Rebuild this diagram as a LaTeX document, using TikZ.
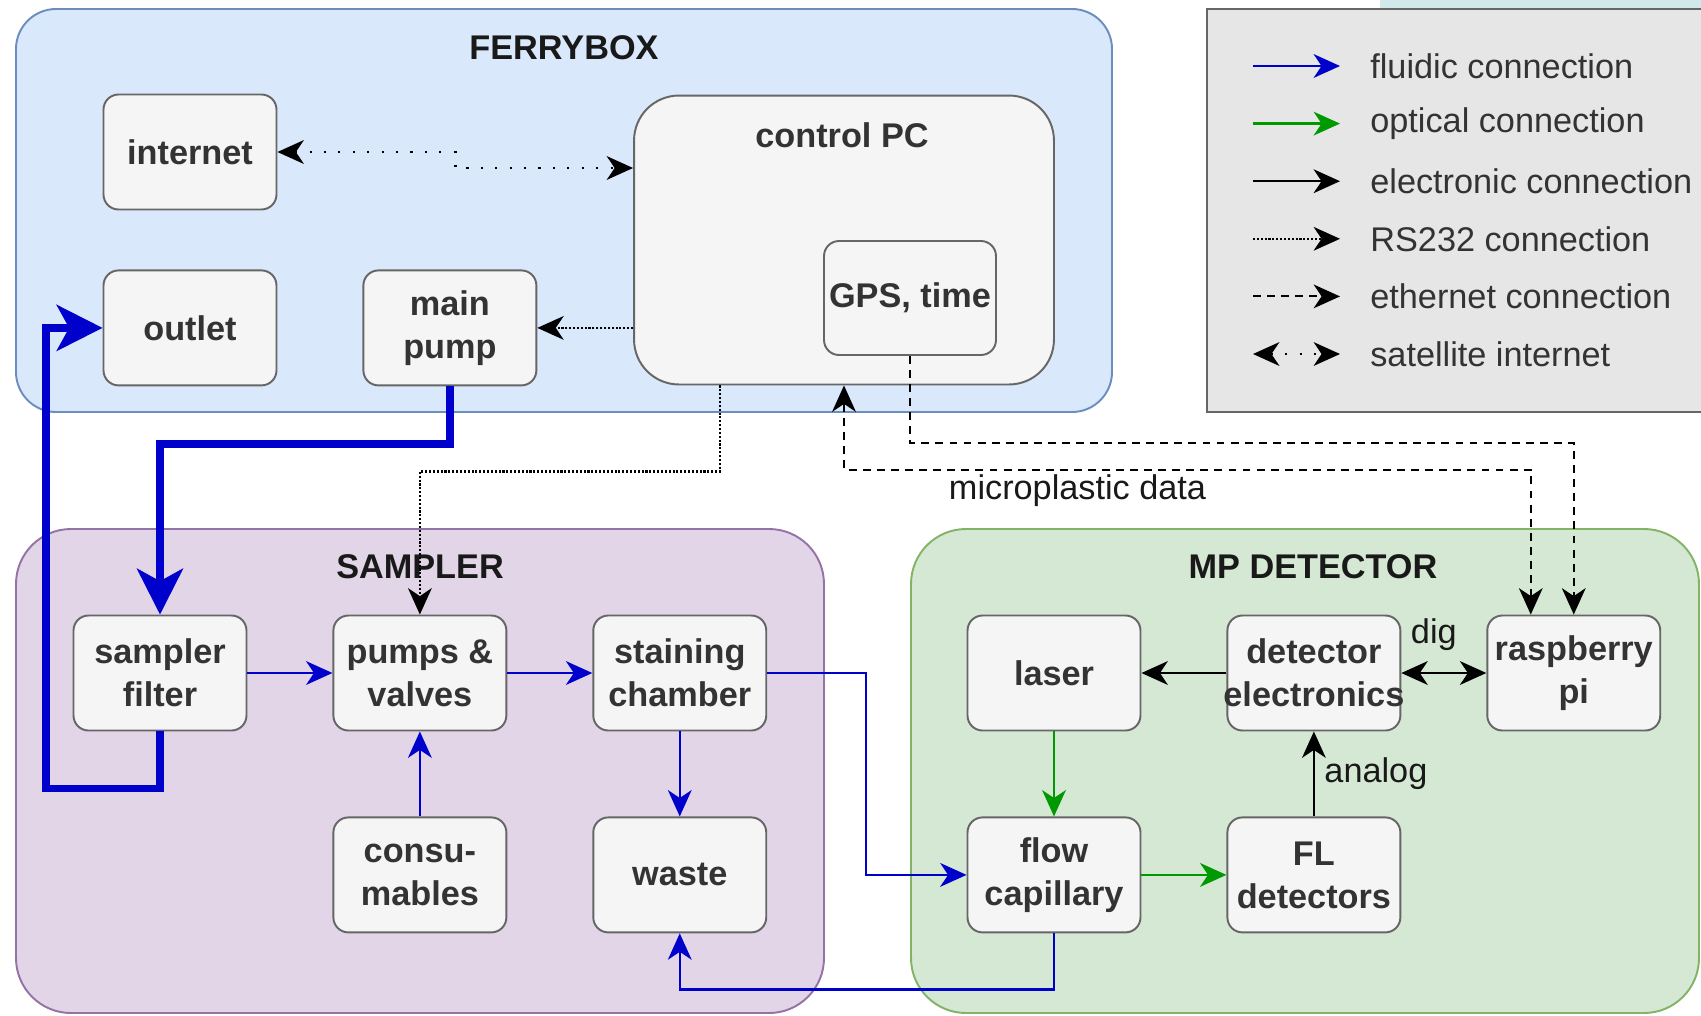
\documentclass[tikz,border=0pt]{standalone}
\usepackage{fontspec}
\setmainfont{Liberation Sans}
\usetikzlibrary{arrows.meta, positioning, fit, backgrounds}
\definecolor{FerryFill}{HTML}{DAE8FC}
\definecolor{FerryLine}{HTML}{6C8EBF}
\definecolor{SamplerFill}{HTML}{E1D5E7}
\definecolor{SamplerLine}{HTML}{9673A6}
\definecolor{DetectFill}{HTML}{D5E8D4}
\definecolor{DetectLine}{HTML}{82B366}
\definecolor{BoxFill}{HTML}{F5F5F5}
\definecolor{BoxLine}{HTML}{666666}
\definecolor{BoxText}{HTML}{333333}
\definecolor{LegendFill}{HTML}{E6E6E6}
\definecolor{FluidBlue}{HTML}{0000CC}
\definecolor{OpticGreen}{HTML}{009900}
\definecolor{CornerTeal}{HTML}{D2E9EC}

\begin{document}
\begin{tikzpicture}[
        x=0.02cm, y=-0.02cm,
        font=\fontsize{19.5}{24.5}\selectfont,
        node distance=1.7cm,
        >={Stealth[length=15pt, width=13.5pt, inset=4.5pt]},
        % Bloque de un componente
        box/.style={
                rectangle,
                rounded corners=0.3cm,
                draw=BoxLine,
                line width=1.1pt,
                fill=BoxFill,
                minimum width=3.46cm,
                minimum height=2.3cm,
                inner sep=0pt,
                align=center,
                text=BoxText,
                font=\fontsize{19.5}{24.5}\selectfont\bfseries
            },
        % Grupo contenedor
        groupbox/.style={
                rectangle,
                line width=1.1pt,
                inner sep=0pt
            },
        grouptitle/.style={
                font=\fontsize{19.5}{24.5}\selectfont\bfseries,
                text=black!90
            },
        legtext/.style={
                anchor=west,
                inner sep=0pt,
                text=BoxText
            },
        % Tipos de conexion
        fluid/.style={
                color=FluidBlue,
                line width=1.4pt,
                ->
            },
        fluidthick/.style={
                color=FluidBlue,
                line width=4.5pt,
                -{Stealth[length=26pt, width=26pt, inset=7pt]}
            },
        optical/.style={
                color=OpticGreen,
                line width=1.4pt,
                ->
            },
        electronic/.style={
                color=black,
                line width=1.4pt,
                ->
            },
        rs232/.style={
                color=black,
                line width=1.2pt,
                densely dotted,
                ->
            },
        ether/.style={
                color=black,
                line width=1.2pt,
                dash pattern=on 4.5pt off 3.5pt,
                ->
            },
        satlink/.style={
                color=black,
                line width=1.2pt,
                dash pattern=on 1.2pt off 7pt,
                <->
            }
    ]

    \useasboundingbox (0,0) rectangle (1701,1015);

    % FERRYBOX
    \node[box] (internet) at (190,152) {internet};
    \node[box, below=1.18cm of internet] (outlet) {outlet};
    \node[box, right=of outlet] (mainpump) {main\\pump};
    \node[box, minimum width=8.4cm, minimum height=5.78cm, rounded corners=0.9cm] (pc) at (844,240) {};
    \node[grouptitle, text=BoxText] (pctitle) at (842,135) {control PC};
    \node[box, minimum width=3.44cm, minimum height=2.28cm] (gps) at (910,298) {GPS, time};

    % SAMPLER
    \node[box] (filter) at (160,673) {sampler\\filter};
    \node[box, right=of filter] (pumps) {pumps \&\\valves};
    \node[box, right=of pumps] (staining) {staining\\chamber};
    \node[box, below=of pumps] (consum) {consu-\\mables};
    \node[box, below=of staining] (waste) {waste};

    % MP DETECTOR
    \node[box] (laser) at (1054,673) {laser};
    \node[box, right=of laser] (electronics) {detector\\\makebox[3cm]{electronics}};
    \node[box, right=of electronics] (raspi) {raspberry\\pi};
    \node[box, below=of laser] (flow) {flow\\capillary};
    \node[box, below=of electronics] (fldet) {FL\\detectors};

    % Grupos
    \begin{scope}[on background layer]
        \node[groupbox, draw=FerryLine, fill=FerryFill, rounded corners=0.8cm,
            fit={(16,9) (1112,412)}] (ferrybox) {};
        \node[groupbox, draw=SamplerLine, fill=SamplerFill, rounded corners=1.1cm,
            fit={(16,529) (824,1013)}] (sampler) {};
        \node[groupbox, draw=DetectLine, fill=DetectFill, rounded corners=1.1cm,
            fit={(911,529) (1699,1013)}] (detector) {};
        % Leyenda
        \fill[CornerTeal] (1380,0) rectangle (1701,9);
        \fill[LegendFill] (1207,9) rectangle (1701,412);
        \draw[BoxLine, line width=1.4pt] (1701,9) -- (1207,9) -- (1207,412) -- (1701,412);
    \end{scope}
    \node[grouptitle] (ferrytitle) at (564,48) {FERRYBOX};
    \node[grouptitle] (samplertitle) at (420,567) {SAMPLER};
    \node[grouptitle] (detectortitle) at (1313,567) {MP DETECTOR};

    % Conexiones de datos
    \draw[satlink] (internet.east) -- ++(178,0) |- ([yshift=-0.32cm]pc.west |- internet.east);
    \draw[rs232] (pc.west |- mainpump.east) -- (mainpump.east);
    \draw[rs232] ([xshift=-2.48cm]pc.south) -- ++(0,86) -| (pumps.north);
    \draw[ether] (gps.south) -- ++(0,87) -| (raspi.north);
    \draw[ether, <->] ([xshift=-0.86cm]raspi.north) -- ++(0,-145) -| (pc.south)
        node[pos=0.33, yshift=-0.42cm, text=black!90] (mpdata) {microplastic data};

    % Conexiones fluidicas
    \draw[fluidthick] (mainpump.south) -- ++(0,58) -| (filter.north);
    \draw[fluidthick] (filter.south) -- ++(0,57) -- ++(-114,0) |- (outlet.west);
    \draw[fluid] (filter) -- (pumps);
    \draw[fluid] (pumps) -- (staining);
    \draw[fluid] (consum) -- (pumps);
    \draw[fluid] (staining) -- (waste);
    \draw[fluid] (staining.east) -- ++(99,0) |- (flow.west);
    \draw[fluid] (flow.south) -- ++(0,56) -| (waste.south);

    % Conexiones opticas y electronicas
    \draw[optical] (laser) -- (flow);
    \draw[optical] (flow) -- (fldet);
    \draw[electronic] (electronics) -- (laser);
    \draw[electronic] (fldet) -- (electronics)
        node[midway, right=2pt, text=black!90] (analog) {analog};
    \draw[electronic, <->] (electronics) -- (raspi)
        node[midway, above=0.3cm, xshift=-0.2cm, text=black!90] (dig) {dig};

    % Leyenda
    \foreach \kind/\desc [count=\i] in {fluid/fluidic connection, optical/optical connection,
            electronic/electronic connection, rs232/RS232 connection,
            ether/ethernet connection, satlink/satellite internet} {
        \node[legtext] (leg\i) at (1370, {66+57.6*(\i-1)}) {\desc};
        \coordinate (legtail\i) at (1253, {66+57.6*(\i-1)});
        \draw[\kind] (legtail\i) -- ([xshift=-0.6cm]leg\i.west);
    }

\end{tikzpicture}
\end{document}
